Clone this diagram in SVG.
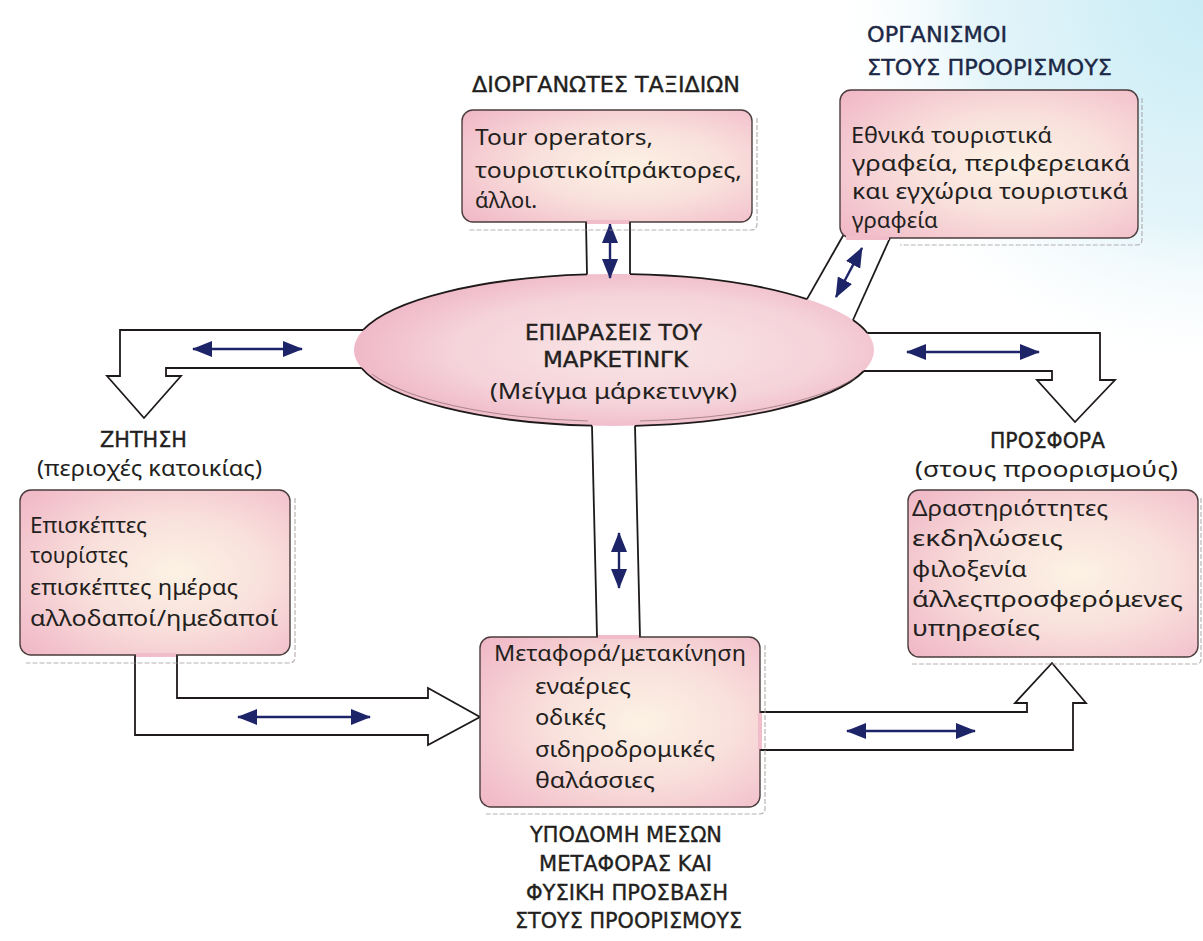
<svg xmlns="http://www.w3.org/2000/svg" width="1203" height="941" viewBox="0 0 1203 941">
  <defs>
    <radialGradient id="boxFill" cx="0.58" cy="0.5" r="0.75">
      <stop offset="0" stop-color="#fcf2e4"/>
      <stop offset="0.45" stop-color="#f9e0dc"/>
      <stop offset="1" stop-color="#f0b7c6"/>
    </radialGradient>
    <radialGradient id="ovalFill" cx="0.55" cy="0.5" r="0.6">
      <stop offset="0" stop-color="#f9e6e6"/>
      <stop offset="0.6" stop-color="#f5d3da"/>
      <stop offset="1" stop-color="#eeb1c3"/>
    </radialGradient>
    <radialGradient id="skyTint" cx="1203" cy="0" r="380" gradientUnits="userSpaceOnUse">
      <stop offset="0" stop-color="#c9ecf5"/>
      <stop offset="0.6" stop-color="#e4f5fa"/>
      <stop offset="1" stop-color="#ffffff" stop-opacity="0"/>
    </radialGradient>
    <marker id="tip" viewBox="0 0 20 16" refX="19" refY="8" markerWidth="20" markerHeight="16" markerUnits="userSpaceOnUse" orient="auto-start-reverse">
      <path d="M0,0 L20,8 L0,16 z" fill="#1d2468"/>
    </marker>
    <style>
      .box { fill: url(#boxFill); stroke: #4a3c3c; stroke-width: 1.4; }
      .gap { fill: #f1bdca; }
      .shadow { fill: none; stroke: #a39a9a; stroke-width: 1.2; stroke-dasharray: 5 2; opacity: 0.75; }
      .pipe { fill: none; stroke: #1e1a1a; stroke-width: 1.8; stroke-linejoin: miter; }
      .rim { fill: none; stroke: #1e1a1a; stroke-width: 1.8; }
      .rim2 { fill: none; stroke: #8c6f6f; stroke-width: 0.9; opacity: 0.8; }
      .flow { stroke: #1d2468; stroke-width: 2.4; marker-start: url(#tip); marker-end: url(#tip); }
      .cap { font-family: "DejaVu Sans Condensed", "DejaVu Sans", "Liberation Sans", sans-serif; font-size: 22px; fill: #231f20; stroke: #231f20; stroke-width: 0.35; }
      .body { font-family: "Noto Sans", "Open Sans", "DejaVu Sans", sans-serif; font-size: 22px; fill: #231f20; }
      .navy { fill: #1c2846; stroke: #1c2846; }
    </style>
  </defs>

  <!-- page -->
  <rect x="0" y="0" width="1203" height="941" fill="#ffffff"/>
  <rect x="700" y="0" width="503" height="400" fill="url(#skyTint)"/>

  <!-- central oval: fill first, rim drawn as arcs so the channels open into it -->
  <g id="node-marketing">
    <ellipse cx="614" cy="350" rx="260" ry="76" fill="url(#ovalFill)"/>
    <path class="rim" d="M363,330 A260,76 0 0 1 587,274.4"/>
    <path class="rim" d="M630,274.1 A260,76 0 0 1 807,299.1"/>
    <path class="rim" d="M853,320 A260,76 0 0 1 867.4,333"/>
    <path class="rim" d="M863.9,371 A260,76 0 0 1 635,425.8"/>
    <path class="rim" d="M592,425.7 A260,76 0 0 1 361.4,368"/>
    <path class="rim2" d="M855,378 A257,73 0 0 1 640,421"/>
    <path class="rim2" d="M588,421 A257,73 0 0 1 372,374"/>
    <text class="cap" x="525" y="340" textLength="177" lengthAdjust="spacingAndGlyphs">ΕΠΙΔΡΑΣΕΙΣ ΤΟΥ</text>
    <text class="cap" x="543" y="367" textLength="145" lengthAdjust="spacingAndGlyphs">ΜΑΡΚΕΤΙΝΓΚ</text>
    <text class="body" x="490" y="399" font-size="21" textLength="247" lengthAdjust="spacingAndGlyphs">(Μείγμα μάρκετινγκ)</text>
  </g>

  <!-- channels and two-way flow arrows -->
  <g id="connectors">
    <!-- to travel organisers -->
    <path class="pipe" d="M586,222 L587,274.4"/>
    <path class="pipe" d="M630,222 L630,274.1"/>
    <line class="flow" x1="610" y1="224" x2="610" y2="278"/>

    <!-- to destination bodies -->
    <path class="pipe" d="M844,234 L807,299.1"/>
    <path class="pipe" d="M890,238 L853,320"/>
    <line class="flow" x1="862" y1="248" x2="836" y2="297"/>

    <!-- to demand -->
    <path class="pipe" d="M363,330 L120,330 L120,376 L107,376 L144,418 L181,376 L166,376 L166,368 L361.4,368"/>
    <line class="flow" x1="193" y1="349" x2="302" y2="349"/>

    <!-- to supply -->
    <path class="pipe" d="M867.4,333 L1100,333 L1100,380 L1115,380 L1075,422 L1037,380 L1052,380 L1052,371 L863.9,371"/>
    <line class="flow" x1="907" y1="352" x2="1039" y2="352"/>

    <!-- to transport -->
    <path class="pipe" d="M592,425.7 L597,637"/>
    <path class="pipe" d="M635,425.8 L640,637"/>
    <line class="flow" x1="619" y1="533" x2="619" y2="588"/>

    <!-- demand to transport -->
    <path class="pipe" d="M135,655 L135,735 L428,735 L428,745 L480,717 L428,688 L428,698 L177,698 L177,655"/>
    <line class="flow" x1="238" y1="717" x2="370" y2="717"/>

    <!-- transport to supply -->
    <path class="pipe" d="M760,712 L1027,712 L1027,703 L1015,703 L1052,663 L1086,703 L1073,703 L1073,750 L760,750"/>
    <line class="flow" x1="847" y1="731" x2="975" y2="731"/>
  </g>

  <!-- travel organisers -->
  <g id="node-organisers">
    <text class="cap" x="472" y="92" textLength="268" lengthAdjust="spacingAndGlyphs">ΔΙΟΡΓΑΝΩΤΕΣ ΤΑΞΙΔΙΩΝ</text>
    <path class="shadow" d="M757,118 L757,224 Q757,230 751,230 L468,230"/>
    <rect class="box" x="462" y="110" width="290" height="112" rx="11"/>
    <rect class="gap" x="587" y="220" width="42" height="4"/>
    <text class="body" x="475" y="145" font-size="23" textLength="178" lengthAdjust="spacingAndGlyphs">Tour operators,</text>
    <text class="body" x="475" y="178" font-size="23" textLength="267" lengthAdjust="spacingAndGlyphs">τουριστικοίπράκτορες,</text>
    <text class="body" x="475" y="208" font-size="23" textLength="62" lengthAdjust="spacingAndGlyphs">άλλοι.</text>
  </g>

  <!-- destination bodies -->
  <g id="node-destination-bodies">
    <text class="cap navy" x="867" y="42" textLength="140" lengthAdjust="spacingAndGlyphs">ΟΡΓΑΝΙΣΜΟΙ</text>
    <text class="cap navy" x="867" y="75" textLength="245" lengthAdjust="spacingAndGlyphs">ΣΤΟΥΣ ΠΡΟΟΡΙΣΜΟΥΣ</text>
    <path class="shadow" d="M1142,98 L1142,240 Q1142,245 1136,245 L900,245"/>
    <rect class="box" x="840" y="90" width="298" height="148" rx="11"/>
    <rect class="gap" x="846" y="236" width="43" height="4"/>
    <text class="body" x="851" y="143" font-size="21" textLength="201" lengthAdjust="spacingAndGlyphs">Εθνικά τουριστικά</text>
    <text class="body" x="852" y="171" font-size="21" textLength="278" lengthAdjust="spacingAndGlyphs">γραφεία, περιφερειακά</text>
    <text class="body" x="852" y="199" font-size="21" textLength="276" lengthAdjust="spacingAndGlyphs">και εγχώρια τουριστικά</text>
    <text class="body" x="852" y="228" font-size="21" textLength="86" lengthAdjust="spacingAndGlyphs">γραφεία</text>
  </g>

  <!-- demand -->
  <g id="node-demand">
    <text class="cap" x="100" y="447" textLength="87" lengthAdjust="spacingAndGlyphs">ΖΗΤΗΣΗ</text>
    <text class="body" x="37" y="476" textLength="225" lengthAdjust="spacingAndGlyphs">(περιοχές κατοικίας)</text>
    <path class="shadow" d="M295,498 L295,657 Q295,663 289,663 L26,663"/>
    <rect class="box" x="20" y="490" width="270" height="165" rx="11"/>
    <rect class="gap" x="136" y="653" width="40" height="4"/>
    <text class="body" x="30" y="533" textLength="117" lengthAdjust="spacingAndGlyphs">Επισκέπτες</text>
    <text class="body" x="30" y="563" textLength="98" lengthAdjust="spacingAndGlyphs">τουρίστες</text>
    <text class="body" x="30" y="595" textLength="208" lengthAdjust="spacingAndGlyphs">επισκέπτες ημέρας</text>
    <text class="body" x="30" y="626" textLength="248" lengthAdjust="spacingAndGlyphs">αλλοδαποί/ημεδαποί</text>
  </g>

  <!-- supply -->
  <g id="node-supply">
    <text class="cap" x="990" y="448" textLength="115" lengthAdjust="spacingAndGlyphs">ΠΡΟΣΦΟΡΑ</text>
    <text class="body" x="915" y="477" textLength="263" lengthAdjust="spacingAndGlyphs">(στους προορισμούς)</text>
    <path class="shadow" d="M1201,498 L1201,660 Q1201,664 1195,664 L912,664"/>
    <rect class="box" x="908" y="490" width="290" height="167" rx="11"/>
    <text class="body" x="912" y="516" font-size="20" textLength="196" lengthAdjust="spacingAndGlyphs">Δραστηριόττητες</text>
    <text class="body" x="912" y="546" font-size="20" textLength="151" lengthAdjust="spacingAndGlyphs">εκδηλώσεις</text>
    <text class="body" x="912" y="577" font-size="20" textLength="115" lengthAdjust="spacingAndGlyphs">φιλοξενία</text>
    <text class="body" x="912" y="607" font-size="20" textLength="271" lengthAdjust="spacingAndGlyphs">άλλεςπροσφερόμενες</text>
    <text class="body" x="912" y="636" font-size="20" textLength="128" lengthAdjust="spacingAndGlyphs">υπηρεσίες</text>
  </g>

  <!-- transport -->
  <g id="node-transport">
    <path class="shadow" d="M765,645 L765,809 Q765,814 759,814 L486,814"/>
    <rect class="box" x="480" y="637" width="280" height="170" rx="11"/>
    <rect class="gap" x="598" y="635" width="41" height="4"/>
    <rect class="gap" x="758" y="713" width="4" height="36"/>
    <text class="body" x="494" y="661" textLength="252" lengthAdjust="spacingAndGlyphs">Μεταφορά/μετακίνηση</text>
    <text class="body" x="535" y="694" textLength="96" lengthAdjust="spacingAndGlyphs">εναέριες</text>
    <text class="body" x="535" y="725" textLength="71" lengthAdjust="spacingAndGlyphs">οδικές</text>
    <text class="body" x="535" y="757" textLength="180" lengthAdjust="spacingAndGlyphs">σιδηροδρομικές</text>
    <text class="body" x="535" y="788" textLength="120" lengthAdjust="spacingAndGlyphs">θαλάσσιες</text>
    <text class="cap" x="530" y="842" textLength="192" lengthAdjust="spacingAndGlyphs">ΥΠΟΔΟΜΗ ΜΕΣΩΝ</text>
    <text class="cap" x="539" y="871" textLength="173" lengthAdjust="spacingAndGlyphs">ΜΕΤΑΦΟΡΑΣ ΚΑΙ</text>
    <text class="cap" x="526" y="900" textLength="202" lengthAdjust="spacingAndGlyphs">ΦΥΣΙΚΗ ΠΡΟΣΒΑΣΗ</text>
    <text class="cap" x="515" y="928" textLength="227" lengthAdjust="spacingAndGlyphs">ΣΤΟΥΣ ΠΡΟΟΡΙΣΜΟΥΣ</text>
  </g>
</svg>
